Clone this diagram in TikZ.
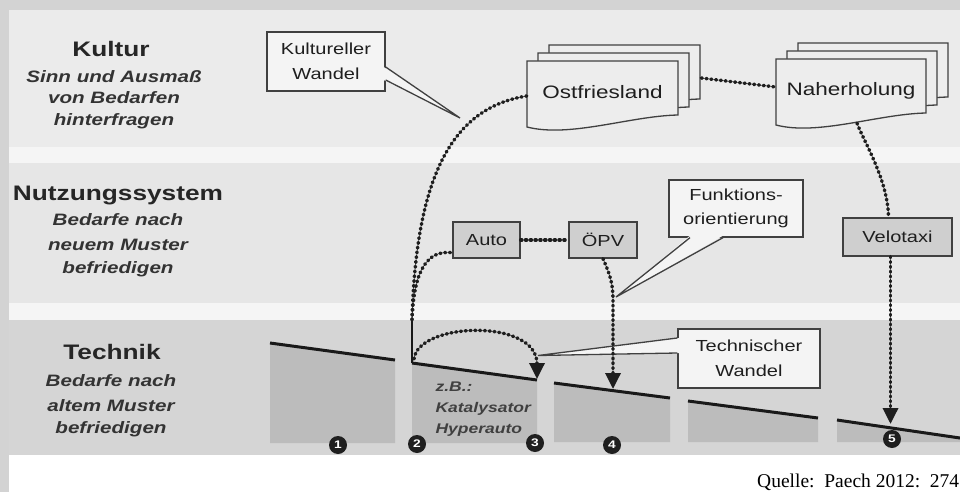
\documentclass[tikz,border=0pt]{standalone}
\usepackage{fontspec}
\setmainfont{Liberation Serif}
\newfontfamily\wsans[FakeStretch=1.25]{Liberation Sans}
\usetikzlibrary{arrows.meta,calc}
\definecolor{framec}{HTML}{D3D3D3}
\definecolor{kulturc}{HTML}{EBEBEB}
\definecolor{stripc}{HTML}{F5F5F5}
\definecolor{nutzc}{HTML}{E6E6E6}
\definecolor{technikc}{HTML}{D5D5D5}
\definecolor{blockc}{HTML}{BCBCBC}
\definecolor{boxc}{HTML}{CFCFCF}
\definecolor{callc}{HTML}{F4F4F4}
\definecolor{docc}{HTML}{EDEDED}
\definecolor{inkc}{HTML}{1E1E1E}
\begin{document}
\begin{tikzpicture}[x=1pt,y=-1pt,
  dotline/.style={draw=inkc, line width=3.4pt, line cap=round, dash pattern=on 1.2pt off 3.6pt},
  arrowtip/.style={-{Triangle[width=15pt,length=16pt]}},
  techline/.style={draw=black!90, line width=3pt},
  graybox/.style={draw=black!75, line width=1.3pt, fill=boxc, inner sep=0pt, text=inkc, font=\wsans\fontsize{16}{19}\selectfont},
  callbox/.style={draw=black!75, line width=1.3pt, fill=callc, inner sep=0pt, align=center, text=inkc, font=\wsans\fontsize{16}{24.5}\selectfont},
  docbox/.style={inner sep=0pt, text=inkc, font=\wsans\fontsize{18}{21}\selectfont},
  docshape/.style={draw=black!75, line width=1.3pt, fill=docc},
  pointerline/.style={draw=black!75, line width=1.3pt},
  title/.style={anchor=base, text=black!85, font=\wsans\bfseries\fontsize{21}{25}\selectfont},
  subtitle/.style={anchor=base, text=black!80, font=\wsans\bfseries\itshape\fontsize{16.5}{20}\selectfont},
  example/.style={anchor=base west, text=black!75, font=\wsans\bfseries\itshape\fontsize{14}{17}\selectfont},
  numdot/.style={circle, fill=black!88, text=white, inner sep=0pt, minimum size=18pt, font=\wsans\bfseries\fontsize{11}{11}\selectfont}
]
\useasboundingbox (0,0) rectangle (960,492);
% background bands
\fill[framec] (0,0) rectangle (960,492);
\fill[white] (9,10) rectangle (960,492);
\fill[kulturc] (9,10) rectangle (960,147);
\fill[stripc] (9,147) rectangle (960,163);
\fill[nutzc] (9,163) rectangle (960,303);
\fill[stripc] (9,303) rectangle (960,320);
\fill[technikc] (9,320) rectangle (960,455);

% left labels
\node[title] (kt) at (111,57) {Kultur};
\node[subtitle] (ks1) at (114,83) {Sinn und Ausmaß};
\node[subtitle] (ks2) at (114,104) {von Bedarfen};
\node[subtitle] (ks3) at (114,125) {hinterfragen};
\node[title] (nt) at (118,200) {Nutzungssystem};
\node[subtitle] (ns1) at (118,225) {Bedarfe nach};
\node[subtitle] (ns2) at (118,250) {neuem Muster};
\node[subtitle] (ns3) at (118,273) {befriedigen};
\node[title] (tt) at (112,359) {Technik};
\node[subtitle] (ts1) at (111,386) {Bedarfe nach};
\node[subtitle] (ts2) at (111,411) {altem Muster};
\node[subtitle] (ts3) at (111,433) {befriedigen};

% technology blocks
\fill[blockc] (270,343) -- (395,360) -- (395,443) -- (270,443) -- cycle;
\draw[techline] (270,343) -- (395,360);
\fill[blockc] (412,363) -- (537,380) -- (537,443) -- (412,443) -- cycle;
\draw[techline] (412,363) -- (537,380);
\fill[blockc] (554,383) -- (670,398) -- (670,442) -- (554,442) -- cycle;
\draw[techline] (554,383) -- (670,398);
\fill[blockc] (688,401) -- (818,418) -- (818,442) -- (688,442) -- cycle;
\draw[techline] (688,401) -- (818,418);
\fill[blockc] (837,420) -- (960,438) -- (960,442) -- (837,442) -- cycle;
\draw[techline] (837,420) -- (962,438.3);

\coordinate (stem) at (412,320);
\coordinate (base2) at (412,363);
\draw[draw=black!90, line width=2.2pt] (stem) -- (base2);
\coordinate (b2tip) at (537,379);
\coordinate (b3tip) at (613,389);
\coordinate (b5tip) at (890.5,424);

\node[example] (zb1) at (432,391) {z.B.:};
\node[example] (zb2) at (432,412) {Katalysator};
\node[example] (zb3) at (432,433) {Hyperauto};

% document stacks
\foreach \k in {2,1,0} {
  \draw[docshape, shift={(11*\k,-8*\k)}] (527,61) -- (678,61) -- (678,115)
    .. controls (630,116) and (570,138) .. (527,127) -- cycle;
  \draw[docshape, shift={(11*\k,-8*\k)}] (776,59) -- (926,59) -- (926,113)
    .. controls (878,114) and (818,136) .. (776,125) -- cycle;
}
\node[docbox, minimum width=151pt, minimum height=58pt] (ost) at (602.5,92) {Ostfriesland};
\node[docbox, minimum width=150pt, minimum height=58pt] (naher) at (851,91) {Naherholung};

% gray boxes
\node[graybox, minimum width=67pt, minimum height=36pt] (auto) at (486.5,240) {Auto};
\node[graybox, minimum width=68pt, minimum height=36pt] (opv) at (603,240) {ÖPV};
\node[graybox, minimum width=109pt, minimum height=38pt] (velo) at (897.5,237) {Velotaxi};

% callouts
\node[callbox, minimum width=118pt, minimum height=59pt] (kw) at (326,61.5) {Kultureller\\Wandel};
\coordinate (kwtip) at (460,118);
\fill[callc] ($(kw.east)+(-2,5.5)$) -- (kwtip) -- ($(kw.east)+(-2,18.5)$) -- cycle;
\draw[pointerline] ($(kw.east)+(0,5.5)$) -- (kwtip) -- ($(kw.east)+(0,18.5)$);

\node[callbox, minimum width=134pt, minimum height=57pt] (fo) at (736,208.5) {Funktions-\\orientierung};
\coordinate (fotip) at (616,297);
\fill[callc] ($(fo.south)+(-46,-2)$) -- (fotip) -- ($(fo.south)+(-13,-2)$) -- cycle;
\draw[pointerline] ($(fo.south)+(-46,0)$) -- (fotip) -- ($(fo.south)+(-13,0)$);

\node[callbox, minimum width=142pt, minimum height=59pt] (tw) at (749,358.5) {Technischer\\Wandel};
\coordinate (twtip) at (538,355.5);
\fill[callc] ($(tw.west)+(2,-20.5)$) -- (twtip) -- ($(tw.west)+(2,-5.5)$) -- cycle;
\draw[pointerline] ($(tw.west)+(0,-20.5)$) -- (twtip) -- ($(tw.west)+(0,-5.5)$);

% dotted connectors
\draw[dotline] (stem) .. controls (416,180) and (450,108) .. ($(ost.west)+(0,4)$);
\draw[dotline] (stem) .. controls (414,268) and (428,250) .. ($(auto.south west)+(0,-6)$);
\draw[dotline] (auto.east) -- (opv.west);
\draw[dotline, arrowtip] (opv.south) .. controls (610,275) and (613,283) .. (613,300) -- (b3tip);
\draw[dotline, arrowtip] ($(base2)+(2,-4)$) .. controls (418,322) and (537,318) .. (b2tip);
\draw[dotline] ($(ost.east)+(23,-14)$) -- ($(naher.west)+(0,-4)$);
\draw[dotline] ($(naher.south)+(6,3)$) .. controls (864,142) and (888,180) .. ($(velo.north)+(-9,0)$);
\draw[dotline, arrowtip] ($(velo.south)+(-7,0)$) -- (b5tip);

% numbers
\node[numdot] (n1) at (338,445) {1};
\node[numdot] (n2) at (417,444) {2};
\node[numdot] (n3) at (535,443) {3};
\node[numdot] (n4) at (612,445) {4};
\node[numdot] (n5) at (892,439) {5};

% source
\node[anchor=base west, inner sep=0pt, font=\fontsize{19.5}{22}\selectfont] (src) at (757,487) {Quelle:\ \ Paech 2012:\ \ 274};
\end{tikzpicture}
\end{document}
